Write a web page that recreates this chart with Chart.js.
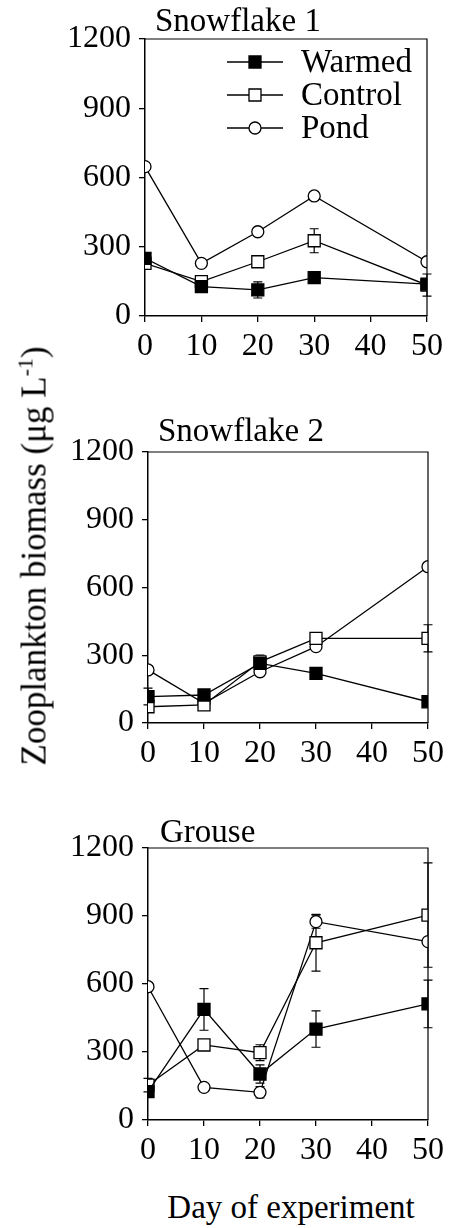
<!DOCTYPE html>
<html>
<head>
<meta charset="utf-8">
<script src="https://cdn.jsdelivr.net/npm/chart.js@4.4.0/dist/chart.umd.min.js"></script>
<style>
  body { margin:0; background:#fff; width:449px; height:1228px; position:relative; overflow:hidden;
         font-family:"Liberation Serif","Times New Roman",serif; color:#000; }
  canvas { position:absolute; left:0; }
  #ytitle { position:absolute; left:33px; top:556px; transform:translate(-50%,-50%) rotate(-90deg);
            white-space:nowrap; font-size:35px; line-height:1; }
  #ytitle sup { font-size:22px; vertical-align:13px; }
  #xtitle { position:absolute; left:291px; top:1207px; transform:translate(-50%,-50%);
            white-space:nowrap; font-size:33px; line-height:1; }
</style>
</head>
<body>
<canvas id="c1" width="449" height="380" style="top:0px"></canvas>
<canvas id="c2" width="449" height="400" style="top:380px"></canvas>
<canvas id="c3" width="449" height="380" style="top:780px"></canvas>
<div id="ytitle">Zooplankton biomass (μg L<sup>-1</sup>)</div>
<div id="xtitle">Day of experiment</div>
<script>
// data
const days = [0, 10, 20, 30, 50];
const xTicks = [0, 10, 20, 30, 40, 50];
const yTicks = [0, 300, 600, 900, 1200];
const seriesNames = ['Warmed', 'Control', 'Pond'];

// Snowflake 1
const warmed1 = [250, 127, 113, 166, 138];
const control1 = [228, 149, 235, 326, 134];
const pond1 = [647, 228, 365, 520, 235];
const warmedErr1 = [null, null, 35, null, null];
const controlErr1 = [null, null, null, 52, 48];
const pondErr1 = [null, null, null, null, null];

// Snowflake 2
const warmed2 = [117, 124, 264, 220, 94];
const control2 = [72, 80, 271, 375, 375];
const pond2 = [235, 87, 227, 338, 692];
const warmedErr2 = [37, null, null, null, null];
const controlErr2 = [null, null, 30, null, 60];
const pondErr2 = [null, null, null, null, null];

// Grouse
const warmed3 = [125, 488, 203, 401, 512];
const control3 = [154, 331, 297, 782, 904];
const pond3 = [588, 144, 122, 875, 787];
const warmedErr3 = [null, 92, 40, 80, 105];
const controlErr3 = [30, null, 35, 125, 230];
const pondErr3 = [null, null, 25, 29, null];

const FONT = 'Liberation Serif';

const frame = {
  id: 'frame',
  beforeDatasetsDraw(chart) {
    const { ctx, scales: { x, y } } = chart;
    ctx.save();
    ctx.strokeStyle = '#000';
    ctx.lineWidth = 1.2;
    chart.data.datasets.forEach(ds => {
      ds.data.forEach((pt, j) => {
        const e = ds.errs[j];
        if (e == null) return;
        const px = x.getPixelForValue(pt.x);
        const y1 = y.getPixelForValue(pt.y + e);
        const y2 = y.getPixelForValue(pt.y - e);
        ctx.beginPath();
        ctx.moveTo(px, y1); ctx.lineTo(px, y2);
        ctx.moveTo(px - 4.5, y1); ctx.lineTo(px + 4.5, y1);
        ctx.moveTo(px - 4.5, y2); ctx.lineTo(px + 4.5, y2);
        ctx.stroke();
      });
    });
    ctx.restore();
  },
  afterDraw(chart, args, opts) {
    const { ctx, chartArea: a } = chart;
    ctx.save();
    ctx.strokeStyle = '#000';
    ctx.lineWidth = 1.2;
    ctx.beginPath();
    ctx.moveTo(a.left, a.top); ctx.lineTo(a.right, a.top); ctx.lineTo(a.right, a.bottom);
    ctx.stroke();

    ctx.fillStyle = '#000';
    ctx.font = '33px ' + FONT;
    ctx.textBaseline = 'middle';
    ctx.textAlign = 'left';
    ctx.fillText(opts.title, opts.titleX, opts.titleY);

    if (opts.legend) {
      chart.data.datasets.forEach((ds, i) => {
        const ly = 62 + i * 33;
        ctx.beginPath();
        ctx.lineWidth = 1.3;
        ctx.moveTo(227, ly); ctx.lineTo(283, ly);
        ctx.stroke();
        ctx.beginPath();
        if (ds.pointStyle === 'circle') {
          ctx.arc(255, ly, 6, 0, Math.PI * 2);
        } else {
          ctx.rect(249, ly - 6, 12, 12);
        }
        ctx.fillStyle = ds.pointBackgroundColor;
        ctx.fill();
        ctx.stroke();
        ctx.fillStyle = '#000';
        ctx.fillText(ds.label, 301, ly + 1);
      });
    }
    ctx.restore();
  }
};

function makeChart(id, top, h, area, vals, errs, title, titleX, titleY, legend) {
  const [L, T, R, B] = area;
  const fills = ['#000', '#fff', '#fff'];
  const styles = ['rect', 'rect', 'circle'];
  new Chart(document.getElementById(id), {
    type: 'line',
    data: {
      datasets: seriesNames.map((n, i) => ({
        label: n,
        data: days.map((d, j) => ({ x: d, y: vals[i][j] })),
        errs: errs[i],
        borderColor: '#000',
        borderWidth: 1.3,
        pointStyle: styles[i],
        pointRadius: i < 2 ? 8.5 : 6,
        pointBackgroundColor: fills[i],
        pointBorderColor: '#000',
        pointBorderWidth: 1.3,
        tension: 0
      }))
    },
    options: {
      responsive: false,
      animation: false,
      layout: { padding: { left: 0, top: T - top, right: 449 - R, bottom: 0 } },
      plugins: {
        legend: { display: false },
        tooltip: { enabled: false },
        frame: { title, titleX, titleY, legend }
      },
      scales: {
        x: {
          type: 'linear', min: 0, max: 50,
          afterBuildTicks: s => { s.ticks = xTicks.map(v => ({ value: v })); },
          afterFit: s => { s.height = h - (B - top); },
          grid: { drawOnChartArea: false, tickLength: 6, color: '#000', lineWidth: 1.3 },
          border: { color: '#000', width: 1.5 },
          ticks: { color: '#000', font: { family: FONT, size: 32 }, padding: 5, maxRotation: 0, autoSkip: false,
                   callback: v => String(v) }
        },
        y: {
          min: 0, max: 1200,
          afterBuildTicks: s => { s.ticks = yTicks.map(v => ({ value: v })); },
          afterFit: s => { s.width = L; },
          grid: { drawOnChartArea: false, tickLength: 6, color: '#000', lineWidth: 1.3 },
          border: { color: '#000', width: 1.5 },
          ticks: { color: '#000', font: { family: FONT, size: 32 }, padding: 8, callback: v => String(v) }
        }
      }
    },
    plugins: [frame]
  });
}

makeChart('c1', 0, 380, [145, 39, 427, 316],
  [warmed1, control1, pond1], [warmedErr1, controlErr1, pondErr1],
  'Snowflake 1', 155, 22, true);
makeChart('c2', 380, 400, [148, 452, 430, 723],
  [warmed2, control2, pond2], [warmedErr2, controlErr2, pondErr2],
  'Snowflake 2', 158, 52, false);
makeChart('c3', 780, 380, [148, 848, 430, 1120],
  [warmed3, control3, pond3], [warmedErr3, controlErr3, pondErr3],
  'Grouse', 160, 53, false);
</script>
</body>
</html>
